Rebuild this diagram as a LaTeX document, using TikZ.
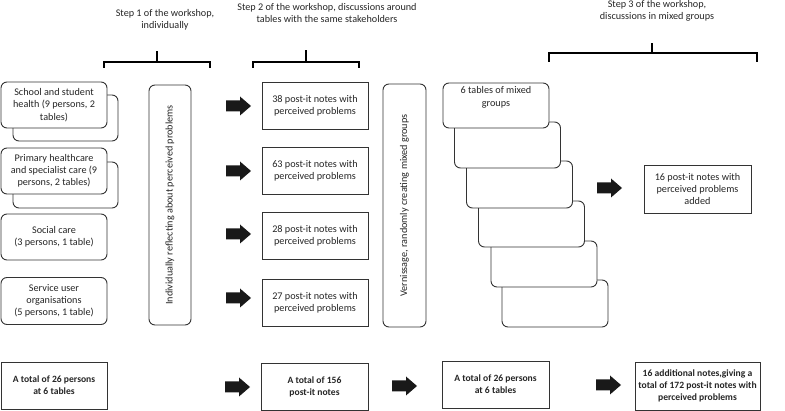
\documentclass[tikz,border=0pt]{standalone}
\usepackage{fontspec}
\setmainfont{Carlito}
\begin{document}
\begin{tikzpicture}[x=1pt,y=-1pt,
  every node/.style={font=\fontsize{10.2}{12.2}\selectfont, text=black!85},
  bfont/.style={font=\fontsize{9.6}{12.2}\selectfont\bfseries},
  rbox/.style={draw=black!80, line width=0.9pt, rounded corners=6pt, fill=white},
  sbox/.style={draw=black!80, line width=0.9pt, fill=white},
  brace/.style={draw=black, line width=2pt},
  barrow/.pic={\fill[black!90] (0,-5.5) -- (14,-5.5) -- (14,-9.5) -- (25,0) -- (14,9.5) -- (14,5.5) -- (0,5.5) -- cycle;}
]
\useasboundingbox (0,0) rectangle (785,411);

% step headings
\node[align=center] (s1) at (165,20) {Step 1 of the workshop,\\individually};
\node[align=center] (s2) at (327,13) {Step 2 of the workshop, discussions around\\tables with the same stakeholders};
\node[align=center] (s3) at (657,11) {Step 3 of the workshop,\\discussions in mixed groups};

% braces
\draw[brace] (104,68) -- (104,62) -- (210,62) -- (210,68);
\draw[brace] (157,62) -- (157,51);
\draw[brace] (253,68) -- (253,62) -- (359,62) -- (359,68);
\draw[brace] (306,62) -- (306,50);
\draw[brace] (549,62) -- (549,53) -- (757,53) -- (757,62);
\draw[brace] (652,53) -- (652,43);

% left column
\draw[rbox] (13,95) rectangle (118,141);
\node[rbox, minimum width=106pt, minimum height=46pt, align=center] (school) at (54,105) {School and student\\health (9 persons, 2\\tables)};
\draw[rbox] (13,162) rectangle (118,208);
\node[rbox, minimum width=106pt, minimum height=46pt, align=center] (primary) at (54,171) {Primary healthcare\\and specialist care (9\\persons, 2 tables)};
\node[rbox, minimum width=106pt, minimum height=46pt, align=center] (social) at (54,237) {Social care\\(3 persons, 1 table)};
\node[rbox, minimum width=106pt, minimum height=47pt, align=center] (service) at (54,301) {Service user\\organisations\\(5 persons, 1 table)};

\node[rbox, minimum width=240pt, minimum height=42pt, rotate=90] (indiv) at (170,205) {Individually reflecting about perceived problems};

% arrows step 1 -> 2
\pic at (226,106) {barrow};
\pic at (226,171) {barrow};
\pic at (226,234) {barrow};
\pic at (226,298) {barrow};

% post-it boxes
\node[sbox, minimum width=106pt, minimum height=47pt, align=center] (p38) at (315,106) {38 post-it notes with\\perceived problems};
\node[sbox, minimum width=106pt, minimum height=47pt, align=center] (p63) at (315,171) {63 post-it notes with\\perceived problems};
\node[sbox, minimum width=106pt, minimum height=47pt, align=center] (p28) at (315,236) {28 post-it notes with\\perceived problems};
\node[sbox, minimum width=106pt, minimum height=47pt, align=center] (p27) at (315,303) {27 post-it notes with\\perceived problems};

\node[rbox, minimum width=243pt, minimum height=43pt, rotate=90] (vern) at (404.5,205.5) {Vernissage, randomly creating mixed groups};

% stack of mixed tables
\node[rbox, minimum width=106pt, minimum height=47pt] (t6) at (555,303.5) {};
\node[rbox, minimum width=106pt, minimum height=46pt] (t5) at (544,264) {};
\node[rbox, minimum width=106pt, minimum height=46pt] (t4) at (531.5,224) {};
\node[rbox, minimum width=106pt, minimum height=47pt] (t3) at (519.5,184.5) {};
\node[rbox, minimum width=106pt, minimum height=46pt] (t2) at (507.5,145) {};
\node[rbox, minimum width=106pt, minimum height=45pt, align=center] (t1) at (496,105.5) {6 tables of mixed\\groups\\[6pt]};

\pic at (597,188) {barrow};
\node[sbox, minimum width=107pt, minimum height=48pt, align=center] (p16) at (697.5,189) {16 post-it notes with\\perceived problems\\added};

% bottom row
\node[sbox, bfont, minimum width=106pt, minimum height=47pt, align=center] (tot1) at (54,385.5) {A total of 26 persons\\at 6 tables};
\pic at (225,387) {barrow};
\node[sbox, bfont, minimum width=107pt, minimum height=47pt, align=center] (tot2) at (314.5,386.5) {A total of 156\\post-it notes};
\pic at (392,386) {barrow};
\node[sbox, bfont, minimum width=107pt, minimum height=47pt, align=center] (tot3) at (495.5,384.5) {A total of 26 persons\\at 6 tables};
\pic at (596,385) {barrow};
\node[sbox, bfont, minimum width=107pt, minimum height=48pt, align=center] (tot4) at (697.5,386) {16 additional notes,giving a\\total of 172 post-it notes with\\perceived problems};
\end{tikzpicture}
\end{document}
